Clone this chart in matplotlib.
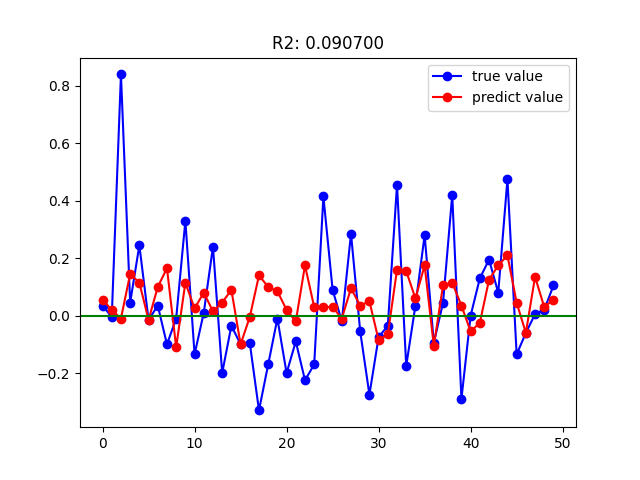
import matplotlib
matplotlib.use("Agg")
import matplotlib.pyplot as plt

true_value = [0.035, -0.005, 0.84, 0.045, 0.245, -0.015, 0.035, -0.1, -0.01, 0.33,
              -0.135, 0.01, 0.24, -0.2, -0.035, -0.1, -0.095, -0.33, -0.17, -0.01,
              -0.2, -0.09, -0.225, -0.17, 0.415, 0.09, -0.02, 0.285, -0.055, -0.275,
              -0.075, -0.035, 0.455, -0.175, 0.035, 0.28, -0.095, 0.045, 0.42, -0.29,
              0.0, 0.13, 0.195, 0.08, 0.475, -0.135, -0.06, 0.005, 0.02, 0.105]
predict_value = [0.055, 0.02, -0.01, 0.145, 0.115, -0.015, 0.1, 0.165, -0.11, 0.115,
                 0.025, 0.08, 0.015, 0.045, 0.09, -0.1, -0.005, 0.14, 0.1, 0.085,
                 0.02, -0.02, 0.175, 0.03, 0.03, 0.03, -0.01, 0.095, 0.035, 0.05,
                 -0.085, -0.065, 0.16, 0.155, 0.06, 0.175, -0.105, 0.105, 0.115, 0.035,
                 -0.055, -0.025, 0.125, 0.175, 0.21, 0.045, -0.06, 0.135, 0.03, 0.055]
r2 = 0.0907

x = list(range(len(true_value)))

fig, ax = plt.subplots(figsize=(6.4, 4.8), dpi=100)
ax.plot(x, true_value, 'bo-', label='true value')
ax.plot(x, predict_value, 'ro-', label='predict value')
ax.axhline(0, color='g')
ax.set_title('R2: %f' % r2)
ax.legend(loc='upper right')
fig.savefig('out.png')
